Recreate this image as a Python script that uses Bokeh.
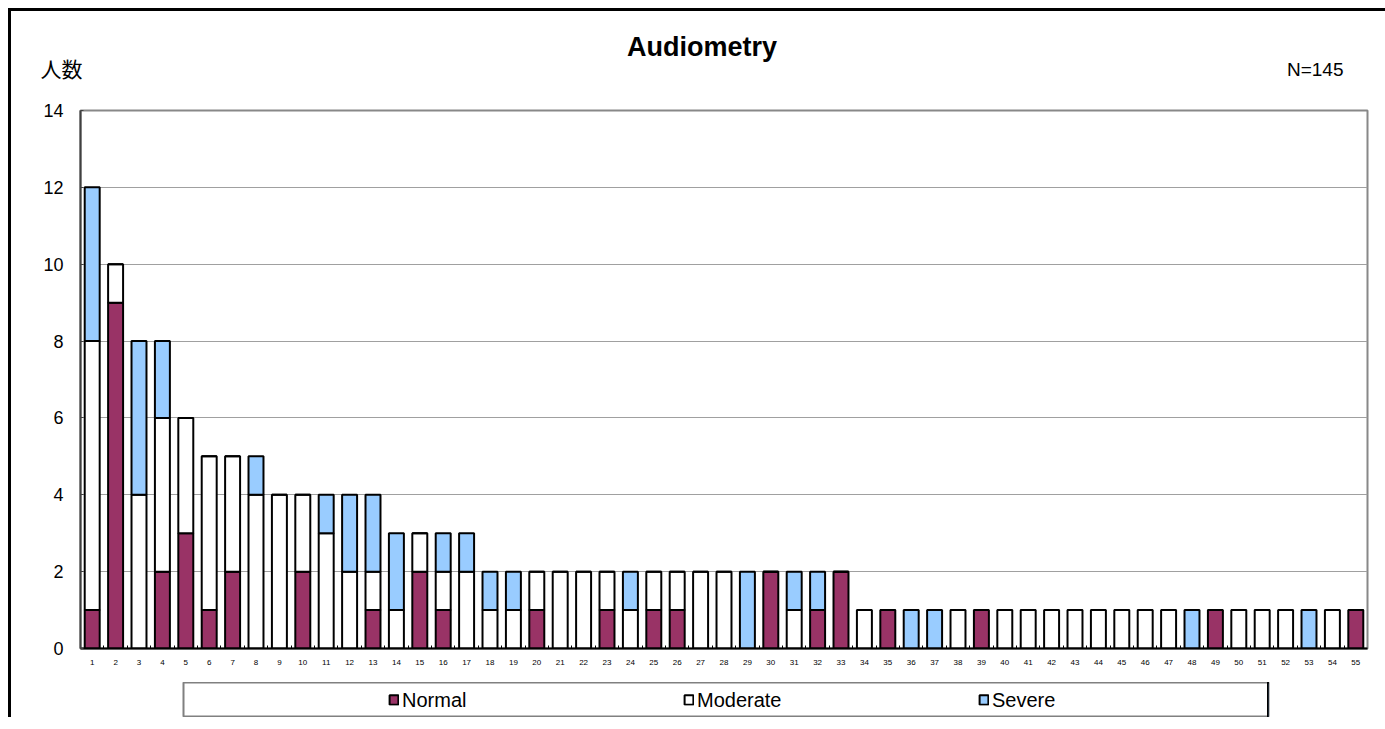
from bokeh.plotting import figure
from bokeh.models import (ColumnDataSource, Range1d, FixedTicker, Legend, LegendItem)
from bokeh.core.properties import value
from bokeh.layouts import column
from bokeh.embed import file_html
from bokeh.resources import INLINE

# ---------------- data ----------------
categories = [str(i) for i in range(1, 56)]
normal = [1, 9, 0, 2, 3, 1, 2, 0, 0, 2, 0, 0, 1, 0, 2, 1, 0,
          0, 0, 1, 0, 0, 1, 0, 1, 1, 0, 0, 0, 2, 0, 1, 2,
          0, 1, 0, 0, 0, 1, 0, 0, 0, 0, 0, 0, 0, 0, 0, 1, 0, 0, 0, 0, 0, 1]
moderate = [7, 1, 4, 4, 3, 4, 3, 4, 4, 2, 3, 2, 1, 1, 1, 1, 2,
            1, 1, 1, 2, 2, 1, 1, 1, 1, 2, 2, 0, 0, 1, 0, 0,
            1, 0, 0, 0, 1, 0, 1, 1, 1, 1, 1, 1, 1, 1, 0, 0, 1, 1, 1, 0, 1, 0]
severe = [4, 0, 4, 2, 0, 0, 0, 1, 0, 0, 1, 2, 2, 2, 0, 1, 1,
          1, 1, 0, 0, 0, 0, 1, 0, 0, 0, 0, 2, 0, 1, 1, 0,
          0, 0, 1, 1, 0, 0, 0, 0, 0, 0, 0, 0, 0, 0, 1, 0, 0, 0, 0, 1, 0, 0]
series_names = ["Normal", "Moderate", "Severe"]
series_colors = ["#993366", "#FFFFFF", "#99CCFF"]
y_ticks = [0, 2, 4, 6, 8, 10, 12, 14]
title_text = "Audiometry"
y_title = "人数"
n_text = "N=145"

FONT = "Liberation Sans"
HEAD_H = 85
FIG_W = 1374

xs = list(range(1, len(categories) + 1))
source = ColumnDataSource(dict(x=xs, Normal=normal, Moderate=moderate, Severe=severe))

# ---------------- header (title texts) ----------------
head = figure(width=FIG_W, height=HEAD_H, min_border=0,
              x_range=Range1d(0, FIG_W), y_range=Range1d(HEAD_H, 0),
              x_axis_location=None, y_axis_location=None,
              output_backend="svg", toolbar_location=None)
if "frame_align" in head.properties():
    head.frame_align = False
head.grid.visible = False
head.outline_line_color = None
head.border_fill_color = "white"
head.background_fill_color = "white"
head.text(x=[690.5], y=[35], text=[title_text], text_font=value(FONT),
          text_font_size="27px", text_font_style="bold", text_color="black",
          text_align="center", text_baseline="alphabetic")
head.text(x=[29], y=[56], text=[y_title], text_font=value("Noto Sans CJK JP"),
          text_font_size="21px", text_color="black",
          text_align="left", text_baseline="middle")
head.text(x=[1332], y=[58], text=[n_text], text_font=value(FONT),
          text_font_size="19px", text_color="black",
          text_align="right", text_baseline="alphabetic")

# ---------------- main chart ----------------
p = figure(frame_width=1287, frame_height=538,
           min_border_left=69, min_border_top=99 - HEAD_H, min_border_right=8, min_border_bottom=22,
           x_range=Range1d(0.5, len(categories) + 0.5), y_range=Range1d(0, max(y_ticks)),
           output_backend="svg", toolbar_location=None)
p.border_fill_color = "white"
p.background_fill_color = "white"
p.outline_line_color = "#888888"
p.outline_line_width = 2

p.vbar_stack(series_names, x="x", width=0.64, source=source,
             fill_color=series_colors, line_color="black", line_width=2)

# x axis
xa = p.xaxis[0]
xa.ticker = FixedTicker(ticks=xs, minor_ticks=[x + 0.5 for x in xs[:-1]])
xa.major_label_overrides = {x: c for x, c in zip(xs, categories)}
xa.major_tick_line_color = None
xa.minor_tick_in = 3
xa.minor_tick_out = 0
xa.minor_tick_line_color = "black"
xa.axis_line_color = "black"
xa.axis_line_width = 2
xa.major_label_text_font_size = "8px"
xa.major_label_text_font = FONT
xa.major_label_text_color = "black"
xa.major_label_standoff = 5

# y axis
ya = p.yaxis[0]
ya.ticker = FixedTicker(ticks=y_ticks)
ya.minor_tick_line_color = None
ya.major_tick_in = 3
ya.major_tick_out = 0
ya.major_tick_line_color = "#404040"
ya.axis_line_color = "#404040"
ya.axis_line_width = 2
ya.major_label_text_font_size = "18px"
ya.major_label_text_font = FONT
ya.major_label_text_color = "black"
ya.major_label_standoff = 17

p.xgrid.visible = False
p.ygrid.grid_line_color = "#a0a0a0"
p.ygrid.grid_line_width = 1

# ---------------- legend box (frame aligned with the chart's borders) ----------------
lf = figure(width=1085 + 69 + 8, height=35, min_border=0,
            x_range=Range1d(-10, -9), y_range=Range1d(0, 1),
            x_axis_location=None, y_axis_location=None,
            output_backend="svg", toolbar_location=None)
lf.margin = (12, 0, 0, 103)
lf.grid.visible = False
lf.outline_line_color = "#808080"
lf.outline_line_width = 2
lf.border_fill_color = "white"
lrs = lf.vbar_stack(series_names, x="x", width=0.64, source=source,
                    fill_color=series_colors, line_color="black", line_width=2)
items = [LegendItem(label=n, renderers=[r]) for n, r in zip(series_names, lrs)]
leg = Legend(items=items, orientation="horizontal", location="center_left",
             margin=205, padding=0, spacing=186,
             glyph_width=11, glyph_height=12, label_standoff=3, label_width=95,
             label_text_font=FONT, label_text_font_size="20px", label_text_color="black",
             border_line_color=None, background_fill_alpha=0)
lf.add_layout(leg, "center")

layout = column(head, p, lf, spacing=0)
layout.styles = {"margin-left": "8px", "margin-top": "8px",
                 "border-left": "3px solid black", "border-top": "3px solid black"}

open("out.html", "w").write(file_html(layout, INLINE))
